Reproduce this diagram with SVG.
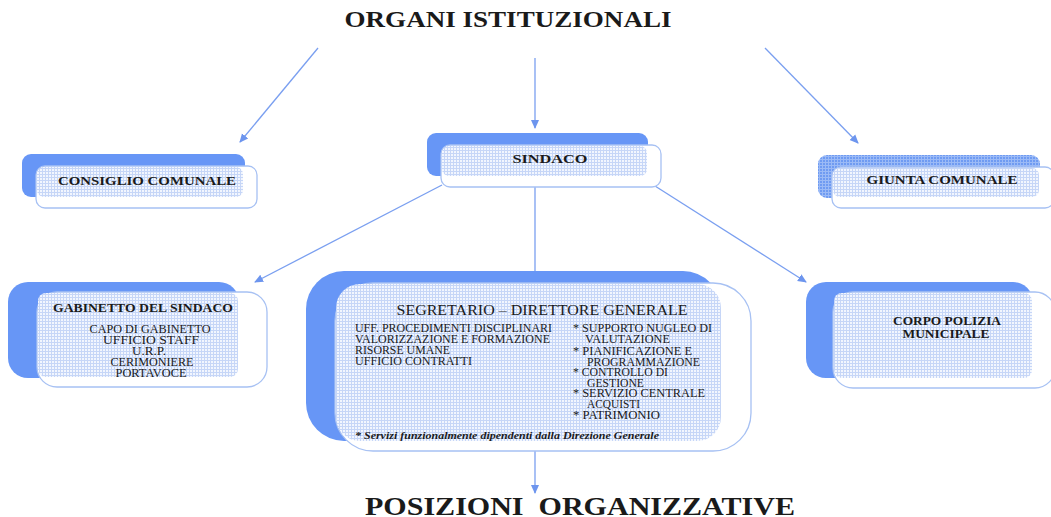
<svg xmlns="http://www.w3.org/2000/svg" width="1051" height="517" viewBox="0 0 1051 517">
<defs>
<pattern id="grid" width="3" height="3" patternUnits="userSpaceOnUse">
<rect width="3" height="3" fill="#f2f6fe"/>
<path d="M0 0.5H3M0.5 0V3" stroke="#c6d6f7" stroke-width="1"/>
</pattern>
<pattern id="gridB" width="3" height="3" patternUnits="userSpaceOnUse">
<rect width="3" height="3" fill="#6f9bf2"/>
<path d="M0 0.5H3M0.5 0V3" stroke="#9bbaf6" stroke-width="1"/>
</pattern>
<marker id="ah" markerWidth="10" markerHeight="10" refX="8" refY="5" orient="auto" markerUnits="userSpaceOnUse">
<path d="M0 1L9 5L0 9Z" fill="#6d95ee"/>
</marker>
</defs>
<style>
.back{fill:#6796f6}
.front{fill:#ffffff;stroke:#a7c1f3;stroke-width:1.3}
.grid{fill:url(#grid)}
.conn{stroke:#7a9ff0;stroke-width:1.3;fill:none}
.t{font-family:"Liberation Serif","Times New Roman",serif;fill:#1a1a1a}
.b{font-weight:bold}
.c{text-anchor:middle}
</style>

<text class="t b c" x="508" y="27" font-size="24" textLength="327" lengthAdjust="spacingAndGlyphs">ORGANI ISTITUZIONALI</text>

<g id="connectors">
<line class="conn" x1="535" y1="58" x2="535" y2="128" marker-end="url(#ah)"/>
<line class="conn" x1="318" y1="48" x2="240" y2="142" marker-end="url(#ah)"/>
<line class="conn" x1="765" y1="48" x2="858" y2="143" marker-end="url(#ah)"/>
<line class="conn" x1="442" y1="185" x2="255" y2="282" marker-end="url(#ah)"/>
<line class="conn" x1="535" y1="187" x2="535" y2="283"/>
<line class="conn" x1="655" y1="186" x2="806" y2="282" marker-end="url(#ah)"/>
<line class="conn" x1="535" y1="451" x2="535" y2="493" marker-end="url(#ah)"/>
</g>

<g id="consiglio">
<rect class="back" x="22" y="154" width="223" height="43" rx="9"/>
<rect class="front" x="36" y="166" width="221" height="42" rx="9"/>
<rect class="grid" x="37" y="167" width="206" height="30" rx="7"/>
<text class="t b c" x="147" y="185" font-size="13" textLength="178" lengthAdjust="spacingAndGlyphs">CONSIGLIO COMUNALE</text>
</g>

<g id="sindaco">
<rect class="back" x="427" y="133" width="221" height="43" rx="9"/>
<rect class="front" x="441" y="145" width="220" height="42" rx="9"/>
<rect class="grid" x="442" y="146" width="205" height="30" rx="7"/>
<text class="t b c" x="550" y="163" font-size="13" textLength="75" lengthAdjust="spacingAndGlyphs">SINDACO</text>
</g>

<g id="giunta">
<rect x="818" y="155" width="222" height="43" rx="9" fill="url(#gridB)"/>
<rect class="front" x="832" y="167" width="222" height="41" rx="9"/>
<rect class="grid" x="833" y="168" width="206" height="29" rx="7"/>
<text class="t b c" x="942" y="184" font-size="13" textLength="151" lengthAdjust="spacingAndGlyphs">GIUNTA COMUNALE</text>
</g>

<g id="gabinetto">
<rect class="back" x="8" y="282" width="231" height="96" rx="20"/>
<rect class="front" x="37" y="292" width="230" height="95" rx="20"/>
<rect class="grid" x="38" y="293" width="200" height="84" rx="8"/>
<text class="t b c" x="143" y="312" font-size="12" textLength="180" lengthAdjust="spacingAndGlyphs">GABINETTO DEL SINDACO</text>
<text class="t c" x="150" y="333" font-size="11.5" textLength="121" lengthAdjust="spacingAndGlyphs">CAPO DI GABINETTO</text>
<text class="t c" x="151" y="344" font-size="11.5" textLength="96" lengthAdjust="spacingAndGlyphs">UFFICIO STAFF</text>
<text class="t c" x="149" y="355" font-size="11.5" textLength="34" lengthAdjust="spacingAndGlyphs">U.R.P.</text>
<text class="t c" x="152" y="366" font-size="11.5" textLength="83" lengthAdjust="spacingAndGlyphs">CERIMONIERE</text>
<text class="t c" x="151" y="377" font-size="11.5" textLength="71" lengthAdjust="spacingAndGlyphs">PORTAVOCE</text>
</g>

<g id="segretario">
<rect class="back" x="306" y="271" width="415" height="170" rx="38"/>
<rect class="front" x="335" y="283" width="416" height="168" rx="38"/>
<rect class="grid" x="336" y="284" width="385" height="157" rx="24"/>
<text class="t c" x="542" y="315" font-size="14" textLength="291" lengthAdjust="spacingAndGlyphs">SEGRETARIO – DIRETTORE GENERALE</text>
<g font-size="11.5">
<text class="t" x="355" y="332" textLength="197" lengthAdjust="spacingAndGlyphs">UFF. PROCEDIMENTI DISCIPLINARI</text>
<text class="t" x="355" y="343" textLength="195" lengthAdjust="spacingAndGlyphs">VALORIZZAZIONE E FORMAZIONE</text>
<text class="t" x="355" y="354" textLength="95" lengthAdjust="spacingAndGlyphs">RISORSE UMANE</text>
<text class="t" x="355" y="365" textLength="117" lengthAdjust="spacingAndGlyphs">UFFICIO CONTRATTI</text>
<text class="t" x="573" y="332" textLength="139" lengthAdjust="spacingAndGlyphs">*  SUPPORTO NUGLEO DI</text>
<text class="t" x="585" y="343" textLength="85" lengthAdjust="spacingAndGlyphs">VALUTAZIONE</text>
<text class="t" x="573" y="355" textLength="119" lengthAdjust="spacingAndGlyphs">*  PIANIFICAZIONE E</text>
<text class="t" x="587" y="366" textLength="113" lengthAdjust="spacingAndGlyphs">PROGRAMMAZIONE</text>
<text class="t" x="573" y="376" textLength="95" lengthAdjust="spacingAndGlyphs">* CONTROLLO DI</text>
<text class="t" x="587" y="387" textLength="57" lengthAdjust="spacingAndGlyphs">GESTIONE</text>
<text class="t" x="573" y="397" textLength="132" lengthAdjust="spacingAndGlyphs">*  SERVIZIO CENTRALE</text>
<text class="t" x="587" y="408" textLength="53" lengthAdjust="spacingAndGlyphs">ACQUISTI</text>
<text class="t" x="573" y="419" textLength="87" lengthAdjust="spacingAndGlyphs">*  PATRIMONIO</text>
</g>
<text class="t b" x="355" y="439" font-size="10.5" font-style="italic" textLength="304" lengthAdjust="spacingAndGlyphs">* Servizi funzionalmente dipendenti dalla Direzione Generale</text>
</g>

<g id="polizia">
<rect class="back" x="806" y="282" width="227" height="96" rx="20"/>
<rect class="front" x="833" y="292" width="222" height="96" rx="20"/>
<rect class="grid" x="834" y="293" width="198" height="85" rx="8"/>
<text class="t b c" x="947" y="325" font-size="12" textLength="108" lengthAdjust="spacingAndGlyphs">CORPO POLIZIA</text>
<text class="t b c" x="946" y="338" font-size="12" textLength="87" lengthAdjust="spacingAndGlyphs">MUNICIPALE</text>
</g>

<text class="t b c" x="580" y="515" font-size="26" xml:space="preserve" textLength="430" lengthAdjust="spacingAndGlyphs">POSIZIONI  ORGANIZZATIVE</text>
</svg>
